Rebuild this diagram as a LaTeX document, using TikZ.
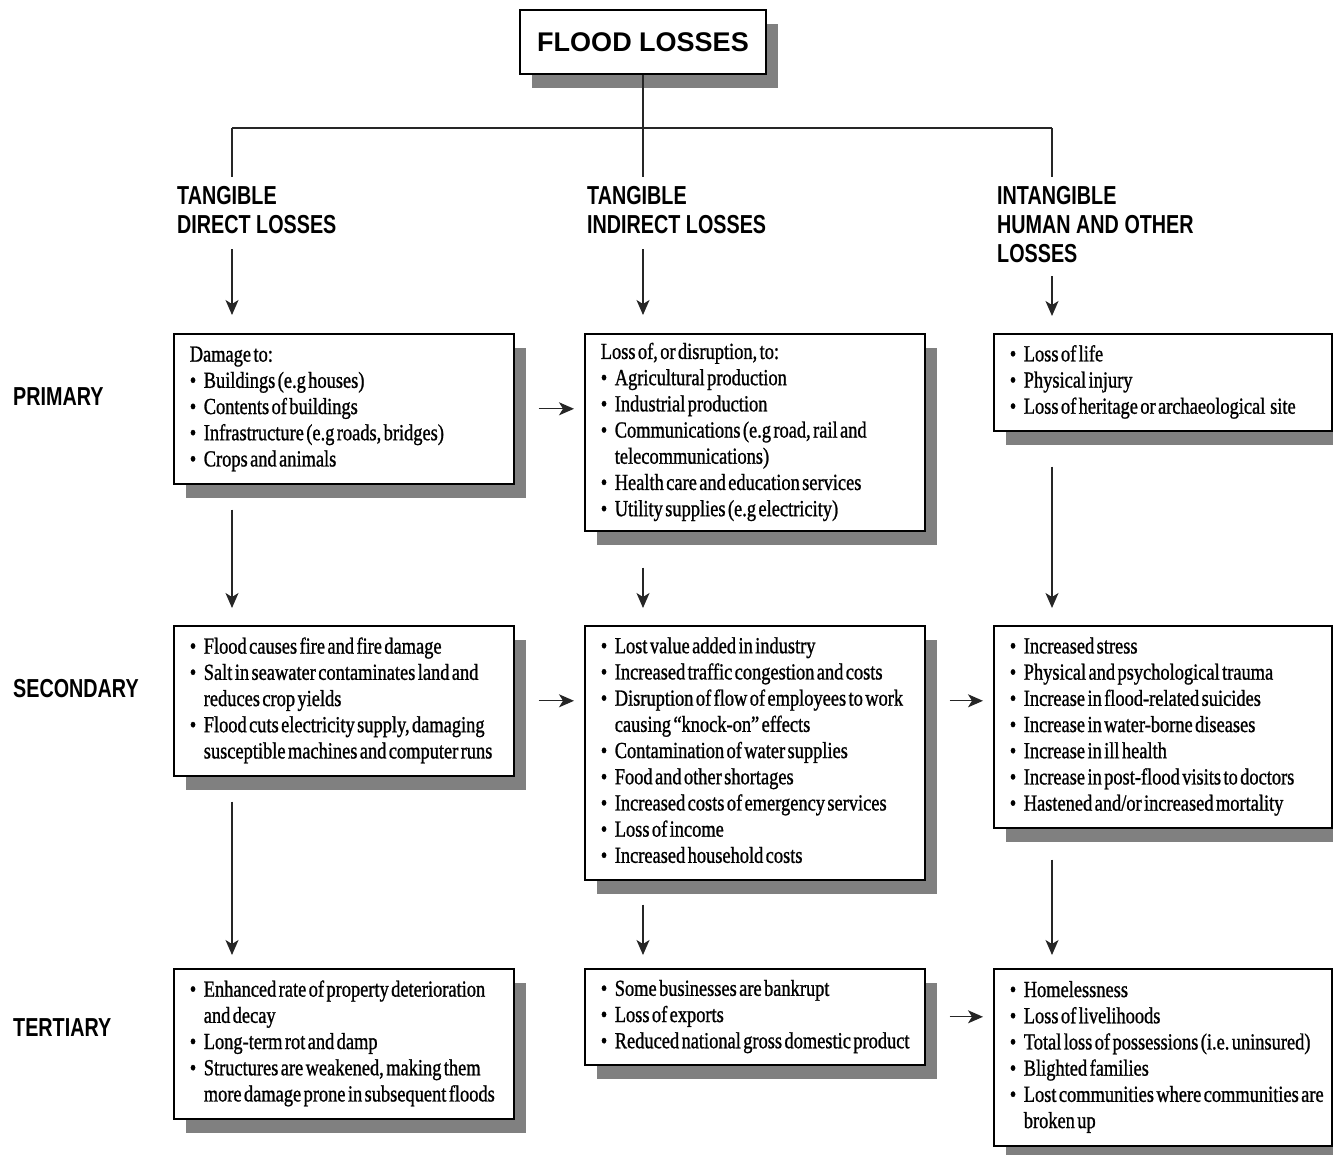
\documentclass[tikz,border=0pt]{standalone}
\usepackage{fontspec}
\setmainfont{Liberation Serif}[FakeStretch=0.80, FakeBold=1.0]
\newfontfamily\hdfam{Liberation Sans}[FakeStretch=0.76]
\newfontfamily\ttlfam{Liberation Sans}
\usetikzlibrary{shadows,arrows.meta}

% fonts for the three kinds of text
\newcommand\bodyfont{\fontsize{23pt}{26.2pt}\selectfont}
\newcommand\hdfont{\hdfam\bfseries\fontsize{26pt}{29pt}\selectfont}
\newcommand\ttlfont{\ttlfam\bfseries\fontsize{27pt}{32pt}\selectfont}

% tight word spaces inside one line of body text
\newcommand\TightLine[1]{\mbox{\spaceskip=2.4pt\relax\xspaceskip=2.4pt\relax #1}}
% one line of a box: plain, bulleted, or continued under a bullet
\newcommand\TxtLine[1]{\strut\TightLine{#1}}
\newcommand\Bul[1]{\strut\makebox[14pt][l]{\textbullet}\TightLine{#1}}
\newcommand\Cont[1]{\strut\hspace*{14pt}\TightLine{#1}}

\begin{document}
\begin{tikzpicture}[x=1pt,y=-1pt,
  shadowed/.style={drop shadow={shadow xshift=12pt, shadow yshift=-14pt,
      fill=black!50, opacity=1}},
  box/.style={draw, line width=1.6pt, fill=white, shadowed, anchor=north west,
      inner xsep=16pt, inner ysep=3pt, align=left, font=\bodyfont,
      text width=308pt},
  boxr/.style={box, text width=306pt},
  ttl/.style={draw, line width=1.6pt, fill=white, shadowed, inner sep=0pt,
      minimum width=246pt, minimum height=64pt, font=\ttlfont},
  hd/.style={font=\hdfont, anchor=north west, align=left, inner sep=0pt},
  rowlab/.style={font=\hdfont, anchor=base west, inner sep=0pt},
  conn/.style={line width=1.3pt, draw=black!85},
  arr/.style={conn, -{Stealth[length=15pt, width=13pt, inset=4pt]}}
]
\useasboundingbox (0,0) rectangle (1333,1154);

% title
\node[ttl] (title) at (643,42) {FLOOD LOSSES};

% column headings
\node[hd] (h1) at (177,184) {\strut TANGIBLE\\\strut DIRECT LOSSES};
\node[hd] (h2) at (587,184) {\strut TANGIBLE\\\strut INDIRECT LOSSES};
\node[hd] (h3) at (997,184) {\strut INTANGIBLE\\\strut HUMAN AND OTHER\\\strut LOSSES};

% row labels
\node[rowlab] (rp) at (13,405) {PRIMARY};
\node[rowlab] (rs) at (13,697) {SECONDARY};
\node[rowlab] (rt) at (13,1036) {TERTIARY};

% primary row
\node[box, minimum height=150pt] (b11) at (173,333) {%
  \TxtLine{Damage to:}\\
  \Bul{Buildings (e.g houses)}\\
  \Bul{Contents of buildings}\\
  \Bul{Infrastructure (e.g roads, bridges)}\\
  \Bul{Crops and animals}};
\node[box, minimum height=197pt] (b12) at (584,333) {%
  \TxtLine{Loss of, or disruption, to:}\\
  \Bul{Agricultural production}\\
  \Bul{Industrial production}\\
  \Bul{Communications (e.g road, rail and}\\
  \Cont{telecommunications)}\\
  \Bul{Health care and education services}\\
  \Bul{Utility supplies (e.g electricity)}};
\node[boxr, minimum height=97pt] (b13) at (993,333) {%
  \Bul{Loss of life}\\
  \Bul{Physical injury}\\
  \Bul{Loss of heritage or archaeological \ site}};

% secondary row
\node[box, minimum height=150pt] (b21) at (173,625) {%
  \Bul{Flood causes fire and fire damage}\\
  \Bul{Salt in seawater contaminates land and}\\
  \Cont{reduces crop yields}\\
  \Bul{Flood cuts electricity supply, damaging}\\
  \Cont{susceptible machines and computer runs}};
\node[box, minimum height=254pt] (b22) at (584,625) {%
  \Bul{Lost value added in industry}\\
  \Bul{Increased traffic congestion and costs}\\
  \Bul{Disruption of flow of employees to work}\\
  \Cont{causing “knock-on” effects}\\
  \Bul{Contamination of water supplies}\\
  \Bul{Food and other shortages}\\
  \Bul{Increased costs of emergency services}\\
  \Bul{Loss of income}\\
  \Bul{Increased household costs}};
\node[boxr, minimum height=202pt] (b23) at (993,625) {%
  \Bul{Increased stress}\\
  \Bul{Physical and psychological trauma}\\
  \Bul{Increase in flood-related suicides}\\
  \Bul{Increase in water-borne diseases}\\
  \Bul{Increase in ill health}\\
  \Bul{Increase in post-flood visits to doctors}\\
  \Bul{Hastened and/or increased mortality}};

% tertiary row
\node[box, minimum height=150pt] (b31) at (173,968) {%
  \Bul{Enhanced rate of property deterioration}\\
  \Cont{and decay}\\
  \Bul{Long-term rot and damp}\\
  \Bul{Structures are weakened, making them}\\
  \Cont{more damage prone in subsequent floods}};
\node[box, minimum height=96pt] (b32) at (584,968) {%
  \Bul{Some businesses are bankrupt}\\
  \Bul{Loss of exports}\\
  \Bul{Reduced national gross domestic product}};
\node[boxr, minimum height=177pt] (b33) at (993,968) {%
  \Bul{Homelessness}\\
  \Bul{Loss of livelihoods}\\
  \Bul{Total loss of possessions (i.e. uninsured)}\\
  \Bul{Blighted families}\\
  \Bul{Lost communities where communities are}\\
  \Cont{broken up}};

% branching lines from the title
\coordinate (bus) at (643,128);
\coordinate (cl) at (232,128);
\coordinate (cr) at (1052,128);
\draw[conn, shorten >=7pt] (title.south) -- (bus |- h2.north);
\draw[conn] (cl) -- (cr);
\draw[conn, shorten >=7pt] (cl) -- (cl |- h1.north);
\draw[conn, shorten >=7pt] (cr) -- (cr |- h3.north);

% headings to primary boxes
\draw[arr, shorten <=7pt, shorten >=18pt] (cl |- h1.south) -- (cl |- b11.north);
\draw[arr, shorten <=7pt, shorten >=18pt] (bus |- h2.south) -- (bus |- b12.north);
\draw[arr, shorten <=5pt, shorten >=17pt] (cr |- h3.south) -- (cr |- b13.north);

% primary to secondary
\draw[arr, shorten <=25pt, shorten >=17pt] (cl |- b11.south) -- (cl |- b21.north);
\draw[arr, shorten <=36pt, shorten >=17pt] (bus |- b12.south) -- (bus |- b22.north);
\draw[arr, shorten <=35pt, shorten >=17pt] (cr |- b13.south) -- (cr |- b23.north);

% secondary to tertiary
\draw[arr, shorten <=25pt, shorten >=13pt] (cl |- b21.south) -- (cl |- b31.north);
\draw[arr, shorten <=24pt, shorten >=13pt] (bus |- b22.south) -- (bus |- b32.north);
\draw[arr, shorten <=31pt, shorten >=13pt] (cr |- b23.south) -- (cr |- b33.north);

% across the rows
\draw[arr, shorten <=24pt, shorten >=10pt] (b11.east) -- (b11.east -| b12.west);
\draw[arr, shorten <=24pt, shorten >=10pt] (b21.east) -- (b21.east -| b22.west);
\draw[arr, shorten <=24pt, shorten >=10pt] (b22.east |- b21.east) -- (b23.west |- b21.east);
\draw[arr, shorten <=24pt, shorten >=10pt] (b32.east) -- (b32.east -| b33.west);
\end{tikzpicture}
\end{document}
